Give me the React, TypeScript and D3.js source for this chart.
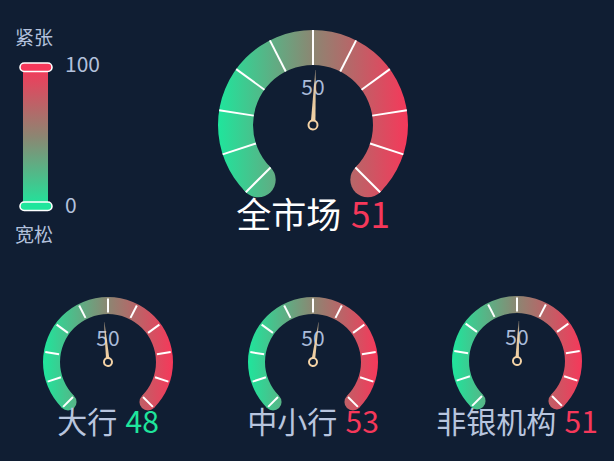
import React from 'react';
import * as d3 from 'd3';

// data
const gaugeNames = ['全市场', '大行', '中小行', '非银机构'];
const gaugeValues = [51, 48, 53, 51];
const axisLabels = [50];
const legendLabels = { high: '紧张', low: '宽松', max: '100', min: '0' };
const domain = [0, 100];

// layout
const W = 614;
const H = 461;
const layouts = [
  { cx: 313, cy: 125, r: 95, w: 35, needle: 55, needleW: 2.4, hub: 4.5, labelY: 95, titleY: 228, titleSize: 35, nameColor: '#ffffff' },
  { cx: 108, cy: 362, r: 65, w: 17, needle: 40, needleW: 1.8, hub: 4, labelY: 346, titleY: 433, titleSize: 30, nameColor: '#b8c5de' },
  { cx: 313, cy: 362, r: 65, w: 17, needle: 40, needleW: 1.8, hub: 4, labelY: 346, titleY: 433, titleSize: 30, nameColor: '#b8c5de' },
  { cx: 517, cy: 361, r: 65, w: 17, needle: 40, needleW: 1.8, hub: 4, labelY: 345, titleY: 433, titleSize: 30, nameColor: '#b8c5de' },
];

const BG = '#101e33';
const GREEN = '#1fe59c';
const RED = '#f6385a';
const MID = '#8c8672';
const NEEDLE = '#f4d3a6';
const LABEL = '#b3c1dc';
const FONT = '"Noto Sans CJK SC", "Noto Sans", sans-serif';

const angle = d3.scaleLinear().domain(domain).range([-0.75 * Math.PI, 0.75 * Math.PI]);

// point at angle a (0 = 12 o'clock, clockwise) and radius r, relative to the gauge centre
const pt = (a: number, r: number) => [r * Math.sin(a), -r * Math.cos(a)];

function Gauge({ idx }: { idx: number }) {
  const L = layouts[idx];
  const value = gaugeValues[idx];
  const id = `g${idx}`;
  const band = d3.arc()({
    innerRadius: L.r - L.w,
    outerRadius: L.r,
    startAngle: angle(domain[0]),
    endAngle: angle(domain[1]),
  } as any) as string;
  const mid = L.r - L.w / 2;
  const caps = [domain[0], domain[1]].map(v => pt(angle(v), mid));
  const inset = idx === 0 ? 0 : 1.5;
  const ticks = angle.ticks(10);
  const rot = (angle(value) * 180) / Math.PI;

  return (
    <g>
      <defs>
        <linearGradient id={`${id}-band`} gradientUnits="userSpaceOnUse" x1={-L.r} x2={L.r} y1={0} y2={0}>
          <stop offset="0%" stopColor={GREEN} />
          <stop offset="50%" stopColor={MID} />
          <stop offset="100%" stopColor={RED} />
        </linearGradient>
        <linearGradient id={`${id}-needle`} gradientUnits="userSpaceOnUse" x1={0} y1={0} x2={0} y2={-L.needle}>
          <stop offset="0%" stopColor={NEEDLE} stopOpacity={1} />
          <stop offset="70%" stopColor={NEEDLE} stopOpacity={0.9} />
          <stop offset="100%" stopColor={NEEDLE} stopOpacity={0.35} />
        </linearGradient>
      </defs>
      <g transform={`translate(${L.cx},${L.cy})`}>
        <path d={band} fill={`url(#${id}-band)`} />
        {caps.map(([x, y], i) => (
          <circle key={i} cx={x} cy={y} r={L.w / 2} fill={`url(#${id}-band)`} />
        ))}
        {ticks.map(t => {
          const a = angle(t);
          const [x1, y1] = pt(a, L.r - L.w + inset);
          const [x2, y2] = pt(a, L.r - inset);
          return <line key={t} x1={x1} y1={y1} x2={x2} y2={y2} stroke="#ffffff" strokeWidth={2} />;
        })}
      </g>
      {axisLabels.map(v => (
        <text key={v} x={L.cx} y={L.labelY} textAnchor="middle" fill="#aabbd9" fontSize={21} fontFamily={FONT}>
          {v}
        </text>
      ))}
      <g transform={`translate(${L.cx},${L.cy}) rotate(${rot})`}>
        <path
          d={`M${-L.needleW},0 L${-0.3},${-L.needle} L${0.3},${-L.needle} L${L.needleW},0 Z`}
          fill={`url(#${id}-needle)`}
        />
        <circle r={L.hub} fill={BG} stroke={NEEDLE} strokeWidth={2} />
      </g>
      <text x={L.cx} y={L.titleY} textAnchor="middle" fontSize={L.titleSize} fontFamily={FONT}>
        <tspan fill={L.nameColor}>{gaugeNames[idx]}</tspan>
        <tspan dx={L.titleSize * 0.28} fill={value < 50 ? GREEN : RED}>{value}</tspan>
      </text>
    </g>
  );
}

function Legend() {
  const y = d3.scaleLinear().domain(domain).range([206, 67]);
  return (
    <g fontFamily={FONT}>
      <defs>
        <linearGradient id="legend-grad" x1="0" y1="0" x2="0" y2="1">
          <stop offset="0%" stopColor={RED} />
          <stop offset="50%" stopColor={MID} />
          <stop offset="100%" stopColor={GREEN} />
        </linearGradient>
      </defs>
      <text x={15} y={45} fontSize={19} fill={LABEL}>{legendLabels.high}</text>
      <rect x={23} y={y(100)} width={25} height={y(0) - y(100)} fill="url(#legend-grad)" />
      <rect x={20} y={y(100) - 4} width={32} height={8.5} rx={4.25} fill={RED} stroke="#ffffff" strokeWidth={1.6} />
      <rect x={20} y={y(0) - 4} width={32} height={8.5} rx={4.25} fill={GREEN} stroke="#ffffff" strokeWidth={1.6} />
      <text x={65} y={y(100) + 5} fontSize={21} fill={LABEL}>{legendLabels.max}</text>
      <text x={65} y={y(0) + 7} fontSize={21} fill={LABEL}>{legendLabels.min}</text>
      <text x={15} y={242} fontSize={19} fill={LABEL}>{legendLabels.low}</text>
    </g>
  );
}

export default function App() {
  return (
    <div style={{ position: 'fixed', left: 0, top: 0, width: W, height: H, background: BG }}>
      <svg width={W} height={H} viewBox={`0 0 ${W} ${H}`} style={{ display: 'block' }}>
        <rect width={W} height={H} fill={BG} />
        <Legend />
        {gaugeNames.map((_, i) => (
          <Gauge key={i} idx={i} />
        ))}
      </svg>
    </div>
  );
}
